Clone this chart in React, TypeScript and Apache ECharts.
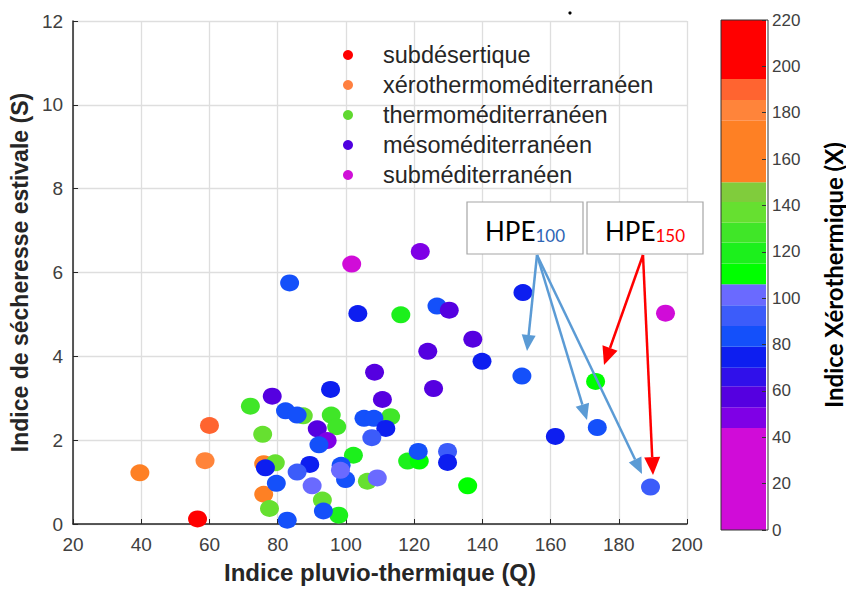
import React, { useEffect, useRef } from "react";
import * as echarts from "echarts";

// [Q, S, X] per bioclimatic stage
const subdesertique = [[56.5, 0.12, 205]];
const xerothermo = [
  [39.6, 1.22, 165], [60.0, 2.35, 190], [58.7, 1.51, 180], [75.9, 1.44, 165], [75.9, 0.71, 165],
];
const thermo = [
  [72.0, 2.81, 128], [87.5, 2.58, 137], [95.7, 2.6, 128], [97.3, 2.32, 128], [75.6, 2.14, 137],
  [79.3, 1.46, 137], [77.6, 0.37, 137], [93.1, 0.57, 137], [97.9, 0.21, 118], [113.1, 2.56, 128],
  [102.2, 1.64, 118], [106.3, 1.02, 137], [118.1, 1.5, 118], [121.5, 1.5, 110], [135.7, 0.91, 110],
  [116.1, 4.99, 118], [173.2, 3.4, 110],
];
const meso = [
  [78.4, 3.05, 57], [95.5, 3.21, 75], [82.3, 2.7, 84], [85.7, 2.6, 84], [91.6, 2.27, 57],
  [94.5, 1.99, 50], [92.1, 1.89, 84], [76.4, 1.34, 75], [89.4, 1.42, 75], [85.7, 1.24, 92],
  [79.6, 0.97, 84], [90.1, 0.91, 100], [82.8, 0.09, 84], [93.4, 0.31, 84], [98.6, 1.4, 84],
  [99.9, 1.06, 84], [98.4, 1.28, 100], [110.7, 2.97, 57], [125.7, 3.23, 57], [105.3, 2.52, 84],
  [108.2, 2.52, 84], [111.7, 2.28, 75], [107.6, 2.06, 92], [109.2, 1.1, 100], [121.2, 1.73, 84],
  [129.8, 1.73, 92], [129.8, 1.47, 75], [121.8, 6.5, 48], [83.5, 5.75, 84], [103.5, 5.02, 75],
  [126.7, 5.2, 84], [130.3, 5.1, 57], [137.2, 4.41, 57], [124.0, 4.12, 57], [139.9, 3.88, 75],
  [108.4, 3.62, 57], [151.9, 5.52, 75], [151.6, 3.53, 84], [161.4, 2.09, 75], [173.7, 2.3, 84],
  [189.3, 0.88, 92],
];
const submed = [[101.7, 6.2, 25], [193.7, 5.03, 25]];

const stageNames = [
  "subdésertique",
  "xérothermoméditerranéen",
  "thermoméditerranéen",
  "mésoméditerranéen",
  "subméditerranéen",
];
const stageColors = ["#ff0000", "#ff8040", "#60d830", "#5000e0", "#d010d8"];
const stageData = [subdesertique, xerothermo, thermo, meso, submed];

// colour bar (Indice Xérothermique)
const bandBounds = [0, 44, 53, 62, 70, 79, 88, 97, 106, 115, 124, 132.5, 141.5, 150, 176.5, 185.5, 194.5, 220];
const bandColors = [
  "#d00cd8", "#7f00e6", "#5500e0", "#3010ea", "#0d1ef0", "#1450fa", "#3c5cfa", "#6a6aff",
  "#00ff00", "#1cf01c", "#40e628", "#66e030", "#80cc3c", "#fe8024", "#ff843a", "#ff6430", "#ff0000",
];

const xTicks = { min: 20, max: 200, interval: 20 };
const yTicks = { min: 0, max: 12, interval: 2 };
const cbTicks = { min: 0, max: 220, interval: 20 };

const FONT = "Liberation Sans, Arial, sans-serif";

function arrow(x1: number, y1: number, x2: number, y2: number, color: string, hl: number, hw: number) {
  const dx = x2 - x1, dy = y2 - y1;
  const len = Math.hypot(dx, dy);
  const ux = dx / len, uy = dy / len;
  const bx = x2 - ux * hl, by = y2 - uy * hl;
  const px = -uy, py = ux;
  return [
    { type: "line", shape: { x1, y1, x2: bx, y2: by }, style: { stroke: color, lineWidth: 2.5 }, z: 100 },
    {
      type: "polygon",
      shape: { points: [[x2, y2], [bx + px * hw, by + py * hw], [bx - px * hw, by - py * hw]] },
      style: { fill: color },
      z: 100,
    },
  ];
}

export default function App() {
  const ref = useRef<HTMLDivElement>(null);
  useEffect(() => {
    if (!ref.current) return;
    const chart = echarts.init(ref.current, null, { renderer: "svg" });
    const scatterSeries = stageNames.map((name, i) => ({
      name,
      type: "scatter",
      xAxisIndex: 0,
      yAxisIndex: 0,
      data: stageData[i],
      symbol: "circle",
      symbolSize: [19, 17],
      itemStyle: { opacity: 1 },
      silent: true,
    }));
    const barSeries = bandColors.map((c, i) => ({
      name: "cb" + i,
      type: "bar",
      xAxisIndex: 1,
      yAxisIndex: 1,
      stack: "cb",
      barWidth: "100%",
      data: [bandBounds[i + 1] - bandBounds[i]],
      itemStyle: { color: c },
      silent: true,
    }));
    const pieces = bandColors.map((c, i) => ({ gte: bandBounds[i], lt: bandBounds[i + 1], color: c }));

    const box = (x: number, label: string, sub: string, subColor: string) => [
      {
        type: "rect",
        shape: { x, y: 202, width: 116, height: 52 },
        style: { fill: "#ffffff", stroke: "#a6a6a6", lineWidth: 1.2 },
        z: 90,
      },
      {
        type: "text",
        x: x + 58,
        y: 229,
        z: 91,
        style: {
          text: "{a|" + label + "}{b|" + sub + "}",
          align: "center",
          verticalAlign: "middle",
          rich: {
            a: { fontSize: 26, fontFamily: "Lato, sans-serif", fill: "#000000", lineHeight: 30, verticalAlign: "bottom" },
            b: { fontSize: 17, fontFamily: "Lato, sans-serif", fill: subColor, lineHeight: 30, verticalAlign: "bottom" },
          },
        },
      },
    ];

    chart.setOption({
      animation: false,
      backgroundColor: "#ffffff",
      grid: [
        { left: 73, right: 159, top: 21, bottom: 61 },
        { left: 721, right: 78, top: 20, bottom: 59 },
      ],
      legend: {
        orient: "vertical",
        left: 338,
        top: 38,
        itemWidth: 60,
        itemHeight: 10,
        itemGap: 6,
        icon: "circle",
        selectedMode: false,
        textStyle: { fontSize: 23.5, fontFamily: FONT, color: "#262626", lineHeight: 20 },
        data: stageNames.map((n, i) => ({ name: n, itemStyle: { color: stageColors[i] } })),
      },
      visualMap: {
        type: "piecewise",
        show: false,
        dimension: 2,
        seriesIndex: [0, 1, 2, 3, 4],
        pieces,
      },
      xAxis: [
        {
          type: "value",
          gridIndex: 0,
          ...xTicks,
          name: "Indice pluvio-thermique (Q)",
          nameLocation: "middle",
          nameGap: 36,
          nameTextStyle: { fontSize: 24, fontWeight: "bold", color: "#262626", fontFamily: FONT },
          axisLine: { lineStyle: { color: "#262626", width: 1.5 } },
          axisTick: { inside: true, length: 5, lineStyle: { color: "#262626" } },
          axisLabel: { fontSize: 19, color: "#404040", fontFamily: FONT, margin: 11 },
          splitLine: { show: true, lineStyle: { color: "#dedede", width: 1.3 } },
        },
        { type: "category", gridIndex: 1, data: ["X"], show: false },
      ],
      yAxis: [
        {
          type: "value",
          gridIndex: 0,
          ...yTicks,
          name: "Indice de sécheresse estivale (S)",
          nameLocation: "middle",
          nameGap: 37,
          nameTextStyle: { fontSize: 23, fontWeight: "bold", color: "#262626", fontFamily: FONT },
          axisLine: { show: true, lineStyle: { color: "#262626", width: 1.5 } },
          axisTick: { show: true, inside: true, length: 5, lineStyle: { color: "#262626" } },
          axisLabel: { fontSize: 19, color: "#404040", fontFamily: FONT, margin: 10 },
          splitLine: { show: true, lineStyle: { color: "#dedede", width: 1.3 } },
        },
        {
          type: "value",
          gridIndex: 1,
          position: "right",
          ...cbTicks,
          z: 10,
          name: "Indice Xérothermique (X)",
          nameLocation: "middle",
          nameRotate: 90,
          nameGap: 55,
          nameTextStyle: { fontSize: 24, fontWeight: "bold", color: "#000000", fontFamily: "Lato, sans-serif" },
          axisLine: { show: false },
          axisTick: { show: true, inside: true, length: 4, lineStyle: { color: "#333333" } },
          axisLabel: { fontSize: 17, color: "#404040", fontFamily: FONT, margin: 6 },
          splitLine: { show: false },
        },
      ],
      graphic: [
        {
          type: "rect",
          shape: { x: 721, y: 20, width: 47, height: 510 },
          style: { fill: "none", stroke: "#333333", lineWidth: 1 },
          z: 50,
        },
        { type: "circle", shape: { cx: 570, cy: 13, r: 1.6 }, style: { fill: "#000000" } },
        ...box(467, "HPE", "100", "#2e64b4"),
        ...box(587, "HPE", "150", "#ff0000"),
        ...arrow(537, 255, 527, 351, "#5b9bd5", 16, 7),
        ...arrow(537, 255, 587, 420, "#5b9bd5", 16, 7),
        ...arrow(537, 255, 642, 474, "#5b9bd5", 16, 7),
        ...arrow(643, 255, 604, 365, "#ff0000", 18, 8),
        ...arrow(643, 255, 653, 475, "#ff0000", 18, 8),
      ],
      series: [...scatterSeries, ...barSeries],
    });
    return () => chart.dispose();
  }, []);
  return <div ref={ref} style={{ position: "absolute", left: 0, top: 0, width: 846, height: 589 }} />;
}
